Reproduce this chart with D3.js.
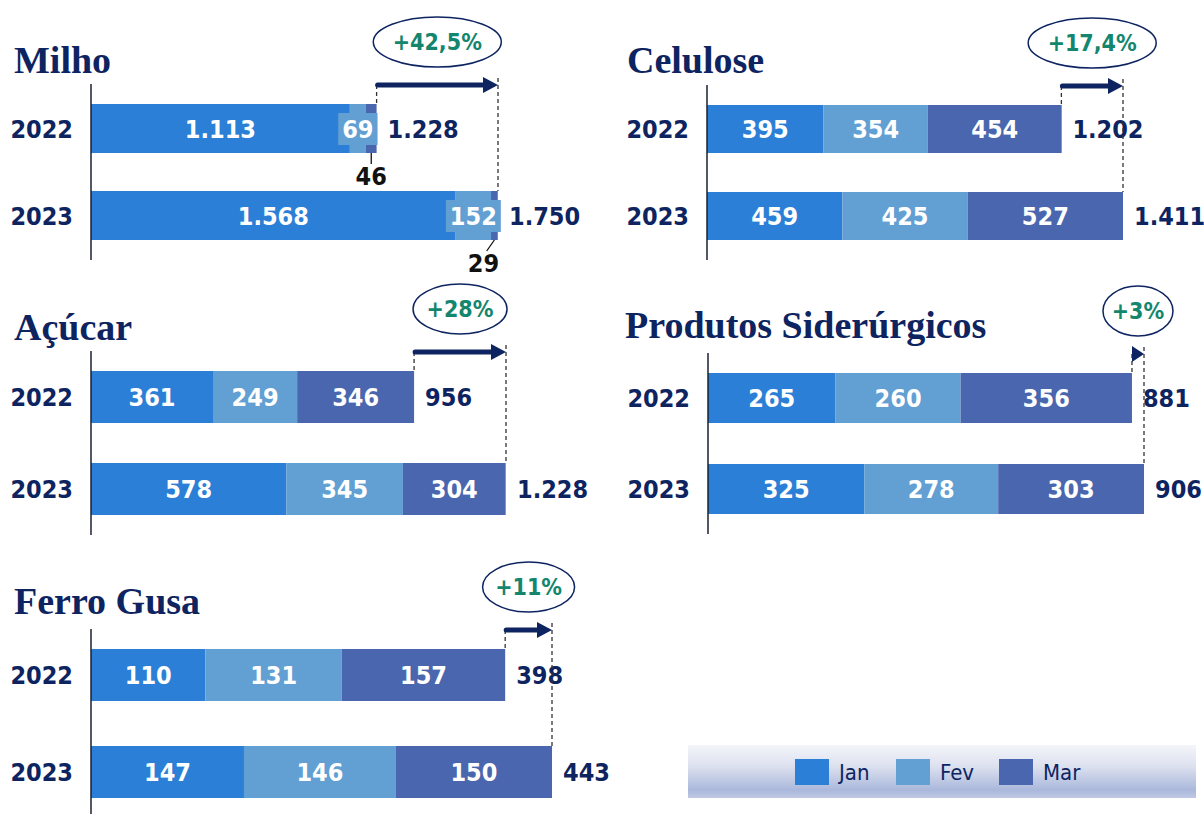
<!DOCTYPE html>
<html>
<head>
<meta charset="utf-8">
<script src="https://cdn.jsdelivr.net/npm/d3@7"></script>
<style>
  body { margin: 0; background: #fff; }
  text { font-family: "DejaVu Sans Condensed", "DejaVu Sans", sans-serif; font-stretch: condensed; }
</style>
</head>
<body>
<svg width="1204" height="814"></svg>
<script>
// data
var months = ["Jan", "Fev", "Mar"],
    years = ["2022", "2023"],
    products = ["Milho", "Celulose", "Açúcar", "Produtos Siderúrgicos", "Ferro Gusa"];

var milho = [[1113, 69, 46], [1568, 152, 29]],
    celulose = [[395, 354, 454], [459, 425, 527]],
    acucar = [[361, 249, 346], [578, 345, 304]],
    siderurgicos = [[265, 260, 356], [325, 278, 303]],
    ferroGusa = [[110, 131, 157], [147, 146, 150]];

var totals = [[1228, 1750], [1202, 1411], [956, 1228], [881, 906], [398, 443]],
    growth = ["+42,5%", "+17,4%", "+28%", "+3%", "+11%"];

var values = [milho, celulose, acucar, siderurgicos, ferroGusa];

// layout
var panels = [
  {x: 91,  w: 407, top: [104, 191], h: 49, tx: 14,  ty: 73,  rx: 64},
  {x: 707, w: 416, top: [105, 192], h: 48, tx: 627, ty: 73,  rx: 64},
  {x: 91,  w: 415, top: [371, 463], h: 52, tx: 14,  ty: 340, rx: 47},
  {x: 708, w: 436, top: [373, 464], h: 50, tx: 625, ty: 338, rx: 35},
  {x: 91,  w: 461, top: [649, 746], h: 52, tx: 14,  ty: 614, rx: 46}
];
var calloutDx = [0, -11];

var navy = "#0d2461", green = "#13866d";
var color = d3.scaleOrdinal().domain(months).range(["#2b7fd6", "#629fd3", "#4a66ae"]);
var fmt = d3.formatLocale({decimal: ",", thousands: ".", grouping: [3], currency: ["", ""]}).format(",d");

var svg = d3.select("svg");

panels.forEach(function(p, i) {
  var g = svg.append("g");
  var x = d3.scaleLinear()
      .domain([0, d3.max(totals[i])])
      .range([p.x, p.x + p.w]);
  var y = d3.scaleOrdinal().domain(years).range(p.top);

  var rows = values[i].map(function(v, j) {
    var r = {year: years[j]};
    months.forEach(function(m, k) { r[m] = v[k]; });
    return r;
  });
  var series = d3.stack().keys(months)(rows);

  // title
  g.append("text")
      .attr("x", p.tx)
      .attr("y", p.ty)
      .style("font-family", "'Liberation Serif', serif")
      .style("font-stretch", "normal")
      .style("font-weight", "bold")
      .style("font-size", "38px")
      .attr("fill", navy)
      .text(products[i]);

  // bars
  var layer = g.selectAll(".layer")
    .data(series)
    .enter().append("g")
      .attr("fill", function(d) { return color(d.key); });

  layer.selectAll("rect")
    .data(function(d) { return d; })
    .enter().append("rect")
      .attr("x", function(d) { return x(d[0]); })
      .attr("y", function(d) { return y(d.data.year); })
      .attr("width", function(d) { return x(d[1]) - x(d[0]); })
      .attr("height", p.h);

  // segment labels
  series.forEach(function(s, k) {
    s.forEach(function(d, j) {
      var x0 = x(d[0]), x1 = x(d[1]), cx = (x0 + x1) / 2,
          cy = y(d.data.year) + p.h / 2;
      var lg = g.append("g");
      var t = lg.append("text")
          .attr("x", cx)
          .attr("y", cy)
          .attr("dy", "0.36em")
          .attr("text-anchor", "middle")
          .attr("fill", "#fff")
          .style("font-weight", "bold")
          .style("font-size", "25px")
          .text(fmt(d[1] - d[0]));
      var tw = t.node().getComputedTextLength();
      if (tw + 6 > x1 - x0) {
        if (k < months.length - 1) {
          lg.insert("rect", "text")
              .attr("x", cx - tw / 2 - 4)
              .attr("y", y(d.data.year) + 9)
              .attr("width", tw + 8)
              .attr("height", p.h - 17)
              .attr("fill", color(s.key));
        } else {
          var by = y(d.data.year) + p.h, lx = cx + calloutDx[j];
          lg.append("line")
              .attr("x1", cx).attr("y1", by)
              .attr("x2", lx - calloutDx[j] * 0.3).attr("y2", by + 11)
              .attr("stroke", "#111")
              .attr("stroke-width", 1.3);
          t.attr("x", lx)
              .attr("y", by + 23)
              .attr("fill", "#111");
        }
      }
    });
  });

  // axis line
  g.append("line")
      .attr("x1", p.x).attr("x2", p.x)
      .attr("y1", p.top[0] - 20)
      .attr("y2", p.top[1] + p.h + 20)
      .attr("stroke", "#1b2030")
      .attr("stroke-width", 1.5);

  // year labels
  g.selectAll(".year")
    .data(years)
    .enter().append("text")
      .attr("x", p.x - 18)
      .attr("y", function(d) { return y(d) + p.h / 2; })
      .attr("dy", "0.36em")
      .attr("text-anchor", "end")
      .attr("fill", navy)
      .style("font-weight", "bold")
      .style("font-size", "25px")
      .text(function(d) { return d; });

  // totals
  g.selectAll(".total")
    .data(totals[i])
    .enter().append("text")
      .attr("x", function(d) { return x(d) + 11; })
      .attr("y", function(d, j) { return y(years[j]) + p.h / 2; })
      .attr("dy", "0.36em")
      .attr("fill", navy)
      .style("font-weight", "bold")
      .style("font-size", "25px")
      .text(function(d) { return fmt(d); });

  // growth arrow
  var ay = p.top[0] - 19,
      xa = x(totals[i][0]), xb = x(totals[i][1]);

  g.append("line")
      .attr("x1", xa).attr("x2", xa)
      .attr("y1", ay).attr("y2", p.top[0])
      .attr("stroke", "#333")
      .attr("stroke-width", 1.3)
      .attr("stroke-dasharray", "4,3");
  g.append("line")
      .attr("x1", xb).attr("x2", xb)
      .attr("y1", ay - 7).attr("y2", p.top[1])
      .attr("stroke", "#333")
      .attr("stroke-width", 1.3)
      .attr("stroke-dasharray", "4,3");

  var headStart = Math.max(xa, xb - 15);
  if (headStart > xa + 1) {
    g.append("line")
        .attr("x1", xa + 1).attr("x2", headStart)
        .attr("y1", ay).attr("y2", ay)
        .attr("stroke", navy)
        .attr("stroke-width", 5)
        .attr("stroke-linecap", "round");
  }
  g.append("path")
      .attr("d", "M" + headStart + "," + (ay - 8) + "L" + xb + "," + ay + "L" + headStart + "," + (ay + 8) + "Z")
      .attr("fill", navy);

  var ecx = (xa + xb) / 2, ecy = ay - 43;
  g.append("ellipse")
      .attr("cx", ecx).attr("cy", ecy)
      .attr("rx", p.rx).attr("ry", 25)
      .attr("fill", "#fff")
      .attr("stroke", navy)
      .attr("stroke-width", 1.5);
  g.append("text")
      .attr("x", ecx).attr("y", ecy)
      .attr("dy", "0.36em")
      .attr("text-anchor", "middle")
      .attr("fill", green)
      .style("font-weight", "bold")
      .style("font-size", "23px")
      .text(growth[i]);
});

// legend
var defs = svg.append("defs");
var grad = defs.append("linearGradient")
    .attr("id", "lg").attr("x1", 0).attr("x2", 0).attr("y1", 0).attr("y2", 1);
[[0, "#f4f5fa"], [0.4, "#dde1ef"], [0.85, "#aab8dc"], [1, "#bfc8e3"]].forEach(function(s) {
  grad.append("stop").attr("offset", s[0]).attr("stop-color", s[1]);
});

svg.append("rect")
    .attr("x", 688).attr("y", 745)
    .attr("width", 508).attr("height", 53)
    .attr("fill", "url(#lg)");

var lx = d3.scaleOrdinal().domain(months).range([795, 896, 999]);
var item = svg.selectAll(".legend")
  .data(months)
  .enter().append("g")
    .attr("transform", function(d) { return "translate(" + lx(d) + ",759)"; });
item.append("rect")
    .attr("width", 34).attr("height", 26)
    .attr("fill", function(d) { return color(d); });
item.append("text")
    .attr("x", 44).attr("y", 13)
    .attr("dy", "0.36em")
    .attr("fill", navy)
    .style("font-size", "22px")
    .text(function(d) { return d; });
</script>
</body>
</html>
